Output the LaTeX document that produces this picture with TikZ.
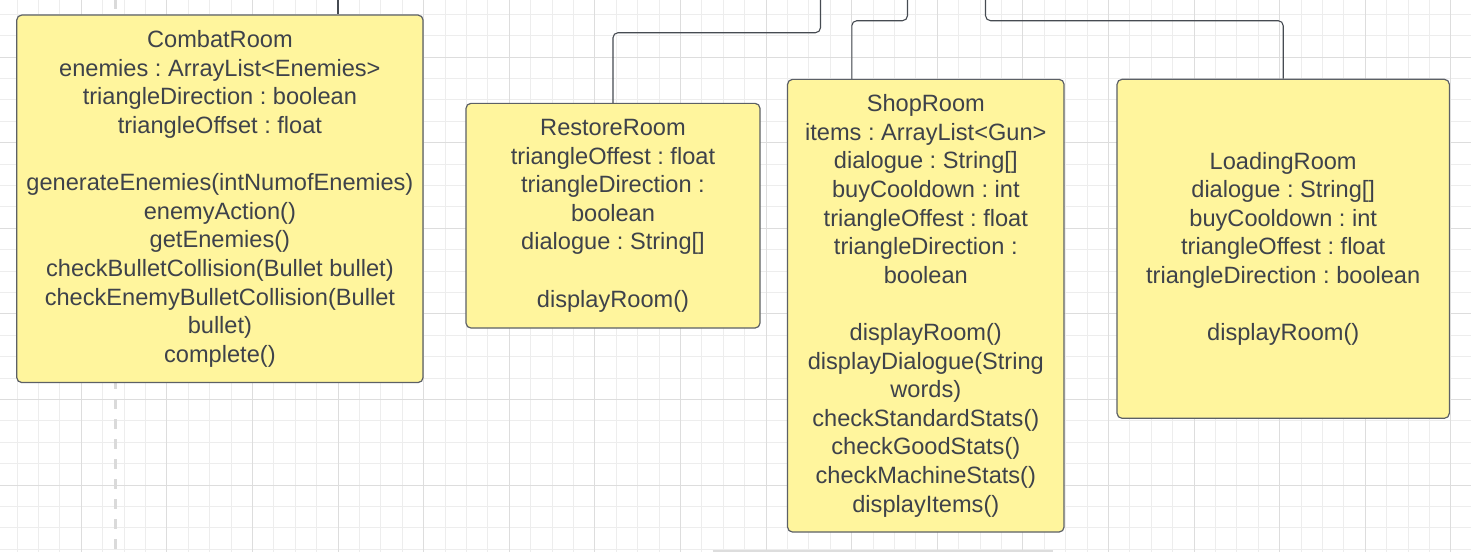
\documentclass[tikz,border=0pt]{standalone}
\usepackage{fontspec}
\setmainfont{Liberation Sans}
\frenchspacing
\definecolor{boxfill}{RGB}{255,245,157}
\definecolor{boxdraw}{RGB}{92,96,102}
\definecolor{txt}{RGB}{62,66,74}
\definecolor{wirecol}{RGB}{70,75,82}
\definecolor{gridminor}{RGB}{237,237,237}
\definecolor{gridmajor}{RGB}{221,221,221}
\definecolor{dashgrey}{RGB}{218,218,218}
\begin{document}
\begin{tikzpicture}[x=1pt,y=-1pt,
  classbox/.style={draw=boxdraw, fill=boxfill, line width=1.2pt, rounded corners=5pt,
    inner sep=0pt, align=center, text=txt, font=\fontsize{23.6}{28.6}\selectfont\frenchspacing},
  wire/.style={draw=wirecol, line width=1.1pt, rounded corners=5pt},
  minorline/.style={draw=gridminor, line width=1pt},
  majorline/.style={draw=gridmajor, line width=1pt}]
\useasboundingbox (0,0) rectangle (1471,552);
\fill[white] (0,0) rectangle (1471,552);
% grid
\foreach \i in {-3,...,64} {\draw[minorline] ({81.3+21.4*\i},0) -- ({81.3+21.4*\i},552);}
\foreach \j in {-2,...,23} {\draw[minorline] (0,{57.1+21.4*\j}) -- (1471,{57.1+21.4*\j});}
\foreach \i in {0,...,16} {\draw[majorline] ({81.3+85.6*\i},0) -- ({81.3+85.6*\i},552);}
\foreach \j in {0,...,5} {\draw[majorline] (0,{57.1+85.6*\j}) -- (1471,{57.1+85.6*\j});}
% dashed guide and bottom edge fragment
\draw[dashgrey, line width=3pt, dash pattern=on 10pt off 10pt, dash phase=1pt] (115.3,0) -- (115.3,552);
\draw[gridmajor, line width=1.5pt] (712.7,550.8) -- (1053,550.8);
% classes
\node[classbox, minimum width=406.3pt, minimum height=367.5pt] (combat) at (219.9,198.8) {CombatRoom\\
enemies : ArrayList<Enemies>\\
triangleDirection : boolean\\
triangleOffset : float\\[28.6pt]
generateEnemies(intNumofEnemies)\\
enemyAction()\\
getEnemies()\\
checkBulletCollision(Bullet bullet)\\
checkEnemyBulletCollision(Bullet\\
bullet)\\
complete()};
\node[classbox, minimum width=294pt, minimum height=224.7pt] (restore) at (613,215.7) {RestoreRoom\\
triangleOffest : float\\
triangleDirection :\\
boolean\\
dialogue : String[]\\[28.6pt]
displayRoom()};
\node[classbox, minimum width=276.5pt, minimum height=452.7pt] (shop) at (925.8,305.7) {ShopRoom\\
items : ArrayList<Gun>\\
dialogue : String[]\\
buyCooldown : int\\
triangleOffest : float\\
triangleDirection :\\
boolean\\[28.6pt]
displayRoom()\\
displayDialogue(String\\
words)\\
checkStandardStats()\\
checkGoodStats()\\
checkMachineStats()\\
displayItems()};
\node[classbox, minimum width=332.3pt, minimum height=339pt] (loading) at (1283.2,248.8) {LoadingRoom\\
dialogue : String[]\\
buyCooldown : int\\
triangleOffest : float\\
triangleDirection : boolean\\[28.6pt]
displayRoom()};
% connectors
\coordinate (ctop) at (338,0);
\coordinate (rbend) at (820.5,32.7);
\coordinate (rtop) at (820.5,0);
\coordinate (sx) at (851.8,0);
\coordinate (sbend) at (907.5,20.7);
\coordinate (stop) at (907.5,0);
\coordinate (lbend) at (985.5,20.7);
\coordinate (ltop) at (985.5,0);
\draw[wire] (ctop |- combat.north) -- (ctop);
\draw[wire] (restore.north) |- (rbend) -- (rtop);
\draw[wire] (sx |- shop.north) |- (sbend) -- (stop);
\draw[wire] (loading.north) |- (lbend) -- (ltop);
\end{tikzpicture}
\end{document}
